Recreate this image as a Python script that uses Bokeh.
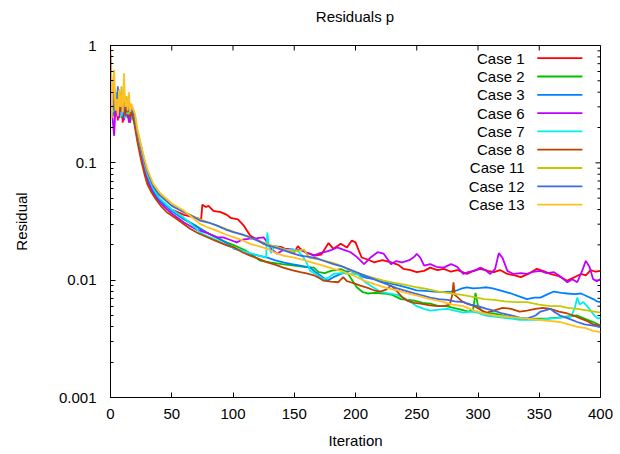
import math
from bokeh.plotting import figure
from bokeh.models import FixedTicker, Range1d, Div
from bokeh.layouts import column
from bokeh.embed import file_html
from bokeh.resources import INLINE
from bokeh.core.properties import value

FONT = "Liberation Sans"
FS = "15px"

# ---------------- data ----------------
title_text = "Residuals p"
x_ticks = [0, 50, 100, 150, 200, 250, 300, 350, 400]
y_ticks = [0.001, 0.01, 0.1, 1]
y_tick_labels = ["0.001", "0.01", "0.1", "1"]
y_minor_mult = [2, 3, 4, 5, 6, 7, 8, 9]
y_decades = [0.001, 0.01, 0.1]

early_it = list(range(21))

case1_it = early_it + [22, 25, 28, 30, 35, 40, 50, 60, 70, 74, 75, 78, 80, 84, 90, 95, 98, 104, 109, 114, 120, 125, 132, 139, 145, 150, 153, 155, 160, 163, 167, 172, 178, 182, 188, 193, 197, 200, 205, 210, 215, 222, 229, 235, 239, 245, 250, 256, 261, 267, 272, 278, 283, 291, 296, 302, 308, 313, 318, 324, 330, 335, 341, 348, 353, 359, 366, 373, 378, 384, 388, 392, 396, 400]
case1_res = [0.75, 0.35, 0.28, 0.4, 0.25, 0.3, 0.23, 0.35, 0.27, 0.32, 0.22, 0.3, 0.26, 0.33, 0.24, 0.28, 0.22, 0.27, 0.24, 0.26, 0.22,
             0.17, 0.12, 0.088, 0.074, 0.056, 0.048, 0.04, 0.036, 0.034, 0.033, 0.044, 0.042, 0.043, 0.039, 0.038, 0.036, 0.034, 0.033, 0.029, 0.024, 0.022, 0.0204, 0.0195, 0.0192, 0.018, 0.0173, 0.0195, 0.0185, 0.017, 0.0168, 0.0162, 0.0165, 0.0207, 0.0185, 0.0204, 0.019, 0.0218, 0.021, 0.0156, 0.015, 0.0142, 0.0148, 0.0142, 0.0135, 0.0125, 0.0122, 0.0117, 0.012, 0.0128, 0.0122, 0.0125, 0.0118, 0.0122, 0.0113, 0.012, 0.0125, 0.012, 0.0117, 0.0122, 0.0113, 0.011, 0.0106, 0.0113, 0.0125, 0.012, 0.0113, 0.0108, 0.0099, 0.0105, 0.0113, 0.011, 0.0122, 0.0118, 0.012]

case2_it = early_it + [22, 25, 28, 30, 35, 40, 50, 60, 70, 80, 90, 100, 110, 122, 130, 140, 150, 158, 166, 170, 175, 180, 188, 193, 196, 201, 206, 210, 216, 223, 230, 237, 243, 248, 255, 261, 268, 274, 280, 286, 292, 296, 298, 300, 305, 313, 320, 332, 345, 356, 365, 373, 381, 387, 394, 400]
case2_res = [0.6, 0.3, 0.35, 0.25, 0.32, 0.27, 0.38, 0.26, 0.31, 0.24, 0.3, 0.27, 0.34, 0.25, 0.29, 0.23, 0.28, 0.25, 0.26, 0.24, 0.22,
             0.17, 0.125, 0.09, 0.076, 0.058, 0.049, 0.039, 0.033, 0.029, 0.025, 0.022, 0.02, 0.018, 0.0147, 0.0142, 0.0137, 0.0133, 0.013, 0.0128, 0.0117, 0.0115, 0.012, 0.0124, 0.0118, 0.0105, 0.0087, 0.0079, 0.0077, 0.0078, 0.0077, 0.0075, 0.0069, 0.0068, 0.0067, 0.0064, 0.0063, 0.006, 0.006, 0.0058, 0.0056, 0.0054, 0.0056, 0.0078, 0.006, 0.0052, 0.0052, 0.005, 0.0047, 0.0047, 0.0047, 0.0048, 0.0049, 0.005, 0.0047, 0.0044, 0.0041]

case3_it = early_it + [22, 25, 28, 30, 35, 40, 50, 60, 67, 73, 80, 87, 94, 101, 108, 114, 121, 128, 134, 141, 148, 155, 160, 163, 167, 171, 177, 182, 188, 193, 196, 202, 208, 215, 223, 230, 236, 243, 250, 257, 264, 271, 278, 283, 287, 291, 296, 302, 307, 312, 318, 323, 327, 333, 340, 346, 351, 357, 362, 368, 373, 379, 384, 389, 394, 397, 400]
case3_res = [0.45, 0.3, 0.38, 0.26, 0.33, 0.28, 0.31, 0.25, 0.37, 0.27, 0.3, 0.24, 0.32, 0.27, 0.25, 0.3, 0.23, 0.26, 0.24, 0.25, 0.22,
             0.165, 0.12, 0.088, 0.075, 0.057, 0.048, 0.039, 0.033, 0.03, 0.0274, 0.025, 0.0232, 0.021, 0.0185, 0.0178, 0.0168, 0.0162, 0.0156, 0.0148, 0.0142, 0.0137, 0.0133, 0.013, 0.0128, 0.0118, 0.011, 0.0099, 0.0106, 0.0113, 0.0118, 0.012, 0.0112, 0.0105, 0.0102, 0.0096, 0.0093, 0.009, 0.0086, 0.0082, 0.0081, 0.008, 0.0079, 0.008, 0.0082, 0.0085, 0.0087, 0.0085, 0.0086, 0.0087, 0.0085, 0.0082, 0.0079, 0.0077, 0.0073, 0.0069, 0.0071, 0.0071, 0.0076, 0.008, 0.0078, 0.0077, 0.0076, 0.0077, 0.0073, 0.0069, 0.0066, 0.0065]

case6_it = early_it + [22, 25, 28, 30, 35, 40, 50, 60, 70, 80, 87, 92, 98, 103, 108, 114, 120, 125, 128, 131, 136, 140, 144, 150, 155, 160, 166, 171, 176, 180, 185, 190, 196, 201, 207, 212, 218, 223, 229, 233, 238, 244, 248, 250, 253, 256, 261, 266, 272, 278, 283, 288, 292, 297, 302, 306, 310, 314, 317, 320, 324, 329, 335, 340, 345, 351, 356, 362, 367, 373, 377, 381, 385, 388, 391, 394, 397, 400]
case6_res = [0.5, 0.3, 0.22, 0.17, 0.3, 0.25, 0.35, 0.24, 0.3, 0.26, 0.33, 0.23, 0.29, 0.25, 0.3, 0.22, 0.26, 0.24, 0.27, 0.23, 0.21,
             0.16, 0.115, 0.085, 0.07, 0.054, 0.046, 0.037, 0.031, 0.027, 0.025, 0.0232, 0.0232, 0.022, 0.021, 0.0222, 0.0226, 0.0228, 0.0232, 0.021, 0.0185, 0.0168, 0.0178, 0.0185, 0.0182, 0.018, 0.0172, 0.0162, 0.017, 0.0175, 0.018, 0.019, 0.0182, 0.0173, 0.0158, 0.0137, 0.0155, 0.0173, 0.0168, 0.0137, 0.0145, 0.0142, 0.0148, 0.0158, 0.0168, 0.0155, 0.0133, 0.0137, 0.013, 0.0128, 0.0137, 0.013, 0.0113, 0.0117, 0.012, 0.0128, 0.0122, 0.0113, 0.0125, 0.017, 0.0155, 0.012, 0.0113, 0.0115, 0.0113, 0.0118, 0.012, 0.0115, 0.0117, 0.0108, 0.0096, 0.0102, 0.0096, 0.012, 0.0146, 0.013, 0.0102, 0.0098, 0.0102]

case7_it = early_it + [22, 25, 28, 30, 35, 40, 50, 60, 66, 73, 78, 84, 90, 98, 106, 114, 120, 127, 128, 129, 131, 134, 136, 140, 144, 148, 152, 156, 160, 163, 166, 169, 174, 178, 182, 188, 196, 202, 207, 212, 216, 220, 227, 234, 240, 245, 250, 256, 261, 268, 275, 281, 288, 294, 299, 306, 313, 320, 327, 334, 340, 350, 359, 368, 376, 379, 381, 383, 386, 389, 392, 395, 398, 400]
case7_res = [0.55, 0.35, 0.27, 0.33, 0.28, 0.4, 0.26, 0.3, 0.35, 0.25, 0.29, 0.32, 0.24, 0.3, 0.26, 0.28, 0.25, 0.27, 0.23, 0.25, 0.21,
             0.17, 0.13, 0.095, 0.08, 0.06, 0.05, 0.04, 0.034, 0.03, 0.0255, 0.024, 0.0226, 0.021, 0.0192, 0.018, 0.017, 0.0163, 0.0156, 0.0255, 0.0204, 0.017, 0.0195, 0.0192, 0.0185, 0.018, 0.0182, 0.018, 0.0165, 0.0142, 0.012, 0.0115, 0.011, 0.0102, 0.0105, 0.0113, 0.0115, 0.0113, 0.0112, 0.0098, 0.009, 0.0085, 0.008, 0.0077, 0.0075, 0.007, 0.0065, 0.006, 0.0057, 0.0055, 0.0056, 0.0057, 0.0055, 0.0053, 0.0054, 0.0053, 0.005, 0.0049, 0.0048, 0.0047, 0.0046, 0.0046, 0.0046, 0.0047, 0.0048, 0.0049, 0.0058, 0.0071, 0.0062, 0.0065, 0.006, 0.0055, 0.005, 0.0047, 0.0048]

case8_it = early_it + [22, 25, 28, 30, 33, 37, 41, 46, 52, 58, 65, 72, 79, 85, 90, 95, 101, 108, 114, 121, 128, 135, 141, 148, 155, 160, 166, 170, 174, 180, 186, 190, 193, 196, 200, 204, 210, 215, 220, 225, 229, 234, 238, 242, 248, 253, 261, 267, 272, 277, 279, 280, 281, 283, 287, 291, 297, 302, 307, 313, 320, 327, 334, 340, 347, 353, 359, 366, 373, 378, 384, 389, 394, 400]
case8_res = [0.85, 0.4, 0.3, 0.45, 0.28, 0.35, 0.3, 0.42, 0.27, 0.33, 0.28, 0.36, 0.25, 0.31, 0.27, 0.29, 0.24, 0.28, 0.25, 0.23, 0.2,
             0.15, 0.105, 0.078, 0.066, 0.057, 0.049, 0.043, 0.038, 0.0344, 0.031, 0.0274, 0.025, 0.0232, 0.0218, 0.0208, 0.0198, 0.019, 0.0172, 0.0162, 0.0152, 0.0142, 0.0135, 0.0128, 0.0122, 0.0117, 0.0114, 0.011, 0.0105, 0.0099, 0.0097, 0.0096, 0.0106, 0.0098, 0.0096, 0.0093, 0.009, 0.0086, 0.0082, 0.008, 0.0083, 0.009, 0.008, 0.0072, 0.0067, 0.0064, 0.0063, 0.0061, 0.006, 0.006, 0.0062, 0.0075, 0.0096, 0.0075, 0.0072, 0.0066, 0.0063, 0.006, 0.0056, 0.0053, 0.0055, 0.0058, 0.0057, 0.0054, 0.0055, 0.0057, 0.0058, 0.0057, 0.0054, 0.0052, 0.005, 0.0047, 0.0045, 0.0042, 0.0041]

case11_it = early_it + [22, 25, 28, 30, 35, 40, 50, 60, 70, 80, 90, 100, 110, 120, 130, 140, 150, 155, 158, 162, 168, 175, 182, 189, 196, 205, 214, 223, 232, 241, 250, 259, 268, 278, 287, 296, 305, 313, 322, 332, 340, 350, 359, 367, 373, 381, 390, 400]
case11_res = [0.55, 0.32, 0.28, 0.42, 0.3, 0.36, 0.27, 0.4, 0.3, 0.45, 0.28, 0.34, 0.3, 0.37, 0.32, 0.26, 0.31, 0.28, 0.3, 0.27, 0.25,
              0.19, 0.14, 0.1, 0.086, 0.064, 0.054, 0.044, 0.038, 0.034, 0.031, 0.0285, 0.026, 0.0238, 0.0218, 0.02, 0.0185, 0.0175, 0.018, 0.0182, 0.0156, 0.0152, 0.0146, 0.014, 0.0132, 0.012, 0.0112, 0.0105, 0.0099, 0.0095, 0.0091, 0.0087, 0.0084, 0.008, 0.0077, 0.0075, 0.0072, 0.0069, 0.0068, 0.0066, 0.0065, 0.0065, 0.0062, 0.006, 0.006, 0.0058, 0.0057, 0.0055, 0.0053]

case12_it = early_it + [22, 25, 28, 30, 35, 40, 50, 60, 67, 73, 80, 87, 94, 101, 108, 114, 121, 128, 134, 141, 148, 155, 162, 169, 175, 182, 188, 194, 200, 207, 214, 220, 227, 234, 241, 248, 255, 261, 268, 275, 281, 288, 294, 300, 307, 313, 320, 327, 334, 340, 347, 351, 354, 359, 363, 367, 374, 381, 387, 394, 400]
case12_res = [0.5, 0.33, 0.4, 0.28, 0.35, 0.3, 0.45, 0.29, 0.34, 0.3, 0.38, 0.28, 0.33, 0.3, 0.35, 0.27, 0.3, 0.28, 0.27, 0.26, 0.24,
              0.18, 0.135, 0.1, 0.085, 0.063, 0.053, 0.043, 0.038, 0.035, 0.0322, 0.031, 0.0292, 0.027, 0.0255, 0.0245, 0.0232, 0.0215, 0.0198, 0.019, 0.018, 0.017, 0.0162, 0.0158, 0.0153, 0.0145, 0.0137, 0.0132, 0.0125, 0.0118, 0.011, 0.0103, 0.0097, 0.0091, 0.0085, 0.0081, 0.0077, 0.0074, 0.0071, 0.0069, 0.0068, 0.0066, 0.0065, 0.0062, 0.006, 0.0057, 0.0055, 0.0052, 0.005, 0.0048, 0.0047, 0.005, 0.0054, 0.0055, 0.0057, 0.0053, 0.005, 0.0047, 0.0044, 0.0042, 0.0041, 0.004]

case13_it = early_it + [22, 25, 28, 30, 35, 40, 50, 60, 67, 73, 80, 87, 94, 101, 108, 114, 121, 128, 134, 141, 148, 155, 162, 169, 175, 182, 190, 198, 207, 216, 225, 234, 243, 252, 261, 270, 279, 288, 297, 305, 313, 322, 331, 340, 349, 358, 367, 374, 381, 388, 394, 400]
case13_res = [1.0, 0.24, 0.45, 0.62, 0.28, 0.35, 0.25, 0.42, 0.3, 0.38, 0.27, 0.58, 0.3, 0.35, 0.28, 0.4, 0.27, 0.32, 0.29, 0.28, 0.26,
              0.19, 0.14, 0.105, 0.088, 0.066, 0.056, 0.045, 0.039, 0.034, 0.0302, 0.028, 0.0263, 0.0245, 0.0232, 0.0218, 0.0204, 0.0195, 0.0185, 0.0172, 0.0162, 0.0157, 0.0151, 0.0144, 0.0137, 0.0132, 0.0125, 0.0118, 0.011, 0.0099, 0.0092, 0.0086, 0.0082, 0.0077, 0.0073, 0.0069, 0.0066, 0.0062, 0.006, 0.0055, 0.0052, 0.005, 0.0049, 0.0048, 0.0047, 0.0046, 0.0045, 0.0044, 0.0042, 0.004, 0.0039, 0.0037, 0.0036]

names = ["Case 1", "Case 2", "Case 3", "Case 6", "Case 7", "Case 8", "Case 11", "Case 12", "Case 13"]
colors = ["#ff0000", "#00c000", "#0080ff", "#c000ff", "#00eeee", "#c04000", "#c8c800", "#4169e1", "#ffc020"]
series_it = [case1_it, case2_it, case3_it, case6_it, case7_it, case8_it, case11_it, case12_it, case13_it]
series_res = [case1_res, case2_res, case3_res, case6_res, case7_res, case8_res, case11_res, case12_res, case13_res]

# ---------------- layout constants ----------------
W, H = 620, 454
LEFT, RIGHT, BOTTOM = 110, 20, 57
TITLE_H = 34
TOP_GAP = 11

X0, X1 = 0, 400
Y0, Y1 = 0.001, 1

title_div = Div(text=title_text, width=W - LEFT - RIGHT, height=TITLE_H, margin=(0, RIGHT, 0, LEFT),
                styles={"font-family": FONT, "font-size": FS, "color": "#000000",
                        "text-align": "center", "line-height": f"{TITLE_H}px"})

p = figure(width=W, height=H - TITLE_H, x_range=Range1d(X0, X1), y_range=Range1d(Y0, Y1),
           y_axis_type="log", output_backend="svg", toolbar_location=None,
           min_border_left=LEFT, min_border_right=RIGHT, min_border_top=TOP_GAP, min_border_bottom=BOTTOM)
p.grid.visible = False
p.outline_line_color = "black"
p.outline_line_width = 1
p.background_fill_color = "white"
p.border_fill_color = "white"

y_minor = [m * d for d in y_decades for m in y_minor_mult]


def style_axis(ax):
    ax.major_tick_in = 5
    ax.major_tick_out = 0
    ax.minor_tick_in = 3
    ax.minor_tick_out = 0
    ax.axis_line_color = "black"
    ax.major_tick_line_color = "black"
    ax.minor_tick_line_color = "black"
    ax.major_label_text_font = FONT
    ax.major_label_text_font_size = FS
    ax.major_label_text_color = "#000000"
    ax.axis_label_text_font = FONT
    ax.axis_label_text_font_size = FS
    ax.axis_label_text_font_style = "normal"
    ax.axis_label_text_color = "#000000"


xa = p.xaxis[0]
xa.ticker = FixedTicker(ticks=x_ticks, minor_ticks=[])
style_axis(xa)
xa.axis_label = "Iteration"
xa.major_label_standoff = 11
xa.axis_label_standoff = 10

ya = p.yaxis[0]
ya.ticker = FixedTicker(ticks=y_ticks, minor_ticks=y_minor)
style_axis(ya)
ya.axis_label = "Residual"
ya.major_label_overrides = {t: l for t, l in zip(y_ticks, y_tick_labels)}
ya.major_label_standoff = 14
ya.axis_label_standoff = 26

# mirrored inward ticks on the top and right frame edges (dash markers clipped by the frame)
p.scatter(x=x_ticks, y=[Y1] * len(x_ticks), marker="dash", angle=math.pi / 2, size=10,
          line_color="black", line_width=1)
p.scatter(x=[X1] * len(y_ticks), y=y_ticks, marker="dash", size=10, line_color="black", line_width=1)
p.scatter(x=[X1] * len(y_minor), y=y_minor, marker="dash", size=6, line_color="black", line_width=1)

for it, res, c in zip(series_it, series_res, colors):
    p.line(it, res, line_color=c, line_width=1.8)

# ---------------- legend (gnuplot style: text then sample) ----------------
ly0, ly1 = math.log10(Y0), math.log10(Y1)
LEG_TEXT_FX = 0.845
LEG_LINE_FX0 = 0.871
LEG_LINE_FX1 = 0.963
LEG_TOP_F = 0.036
LEG_STEP_F = 0.052

leg_y = [10 ** (ly1 - (LEG_TOP_F + i * LEG_STEP_F) * (ly1 - ly0)) for i in range(len(names))]
tx = X0 + LEG_TEXT_FX * (X1 - X0)
lx0 = X0 + LEG_LINE_FX0 * (X1 - X0)
lx1 = X0 + LEG_LINE_FX1 * (X1 - X0)

p.text(x=[tx] * len(names), y=leg_y, text=names, text_align="right", text_baseline="middle",
       text_font=value(FONT), text_font_size=FS, text_color="#000000")
p.segment(x0=[lx0] * len(names), y0=leg_y, x1=[lx1] * len(names), y1=leg_y,
          line_color=colors, line_width=1.8)

layout = column(title_div, p, spacing=0)
open("out.html", "w").write(file_html(layout, INLINE))
